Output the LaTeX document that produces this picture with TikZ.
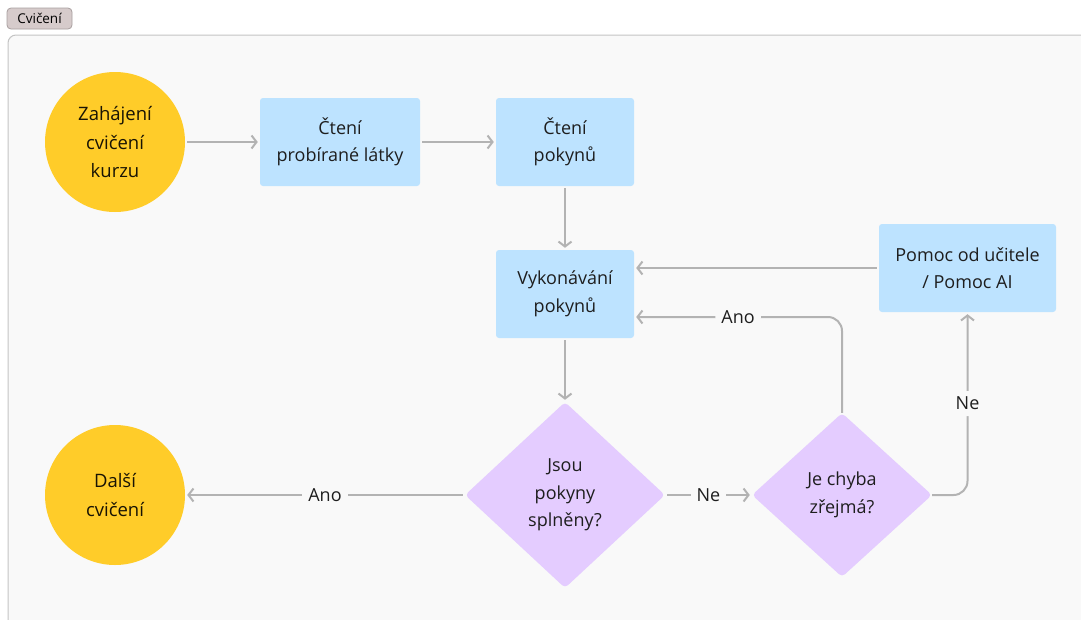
\documentclass[tikz,border=0pt]{standalone}
\usepackage{fontspec}
\setmainfont{Open Sans}
\usetikzlibrary{arrows.meta,shapes.geometric,calc}
\definecolor{bgc}{HTML}{F9F9F9}
\definecolor{framec}{HTML}{C4C4C4}
\definecolor{yel}{HTML}{FFCC29}
\definecolor{blu}{HTML}{BDE3FF}
\definecolor{pur}{HTML}{E4CCFF}
\definecolor{arrc}{HTML}{B3B3B3}
\definecolor{txt}{HTML}{1E1E1E}
\definecolor{tagc}{HTML}{D6CBCB}
\definecolor{tagb}{HTML}{A89F9F}
\begin{document}
\begin{tikzpicture}[x=1pt,y=-1pt,
  every node/.style={text=txt, font=\fontsize{18}{27.5}\selectfont},
  startc/.style={circle, fill=yel, minimum size=140pt, inner sep=0pt, align=center, font=\fontsize{18.5}{28.5}\selectfont, text=black!90!yel},
  boxc/.style={rectangle, rounded corners=3pt, fill=blu, minimum height=88pt, inner sep=0pt, align=center},
  dec/.style={diamond, fill=pur, rounded corners=4pt, inner sep=0pt, align=center},
  arr/.style={draw=arrc, line width=2pt, -{Straight Barb[length=5pt,width=13pt]}, shorten <=2pt, shorten >=2pt},
  lbl/.style={fill=bgc, inner sep=6pt, text=txt},
  tag/.style={draw=tagb, fill=tagc, rounded corners=4pt, line width=0.8pt, minimum width=65pt, minimum height=21pt, inner sep=0pt, font=\fontsize{13.5}{15}\selectfont, text=black}
]
\useasboundingbox (0,0) rectangle (1081,619);
\fill[white] (0,0) rectangle (1081,619);
\draw[framec, fill=bgc, line width=1pt, rounded corners=8pt] (8,35) rectangle (1100,650);
\node[tag] (tag) at (39.5,18.5) {Cvičení};

\node[startc] (s1) at (115,142) {Zahájení\\cvičení\\kurzu};
\node[boxc, minimum width=160pt] (b1) at (340,142) {Čtení\\probírané látky};
\node[boxc, minimum width=138pt] (b2) at (565,142) {Čtení\\pokynů};
\node[boxc, minimum width=138pt] (b3) at (565,294) {Vykonávání\\pokynů};
\node[boxc, minimum width=177pt] (b4) at (967.5,268) {Pomoc od učitele\\/ Pomoc AI};
\node[dec, minimum width=200pt, minimum height=186pt] (d1) at (565,495) {Jsou\\pokyny\\splněny?};
\node[dec, minimum width=180pt, minimum height=164pt] (d2) at (842,495) {Je chyba\\zřejmá?};
\node[startc] (s2) at (115,495) {Další\\cvičení};

\draw[arr] (s1) -- (b1);
\draw[arr] (b1) -- (b2);
\draw[arr] (b2) -- (b3);
\draw[arr] (b3) -- (d1);
\draw[arr] (d1) -- node[lbl]{Ano} (s2);
\draw[arr] (d1) -- node[lbl]{Ne} (d2);
\draw[arr, rounded corners=14pt, shorten <=0pt] (d2.north) |- node[lbl, pos=0.75]{Ano} ($(b3.east)+(0,23)$);
\draw[arr, rounded corners=14pt, shorten <=0pt] (d2.east) -| node[lbl, pos=0.75]{Ne} (b4.south);
\draw[arr] (b4.west) -- (b4.west -| b3.east);
\end{tikzpicture}
\end{document}
